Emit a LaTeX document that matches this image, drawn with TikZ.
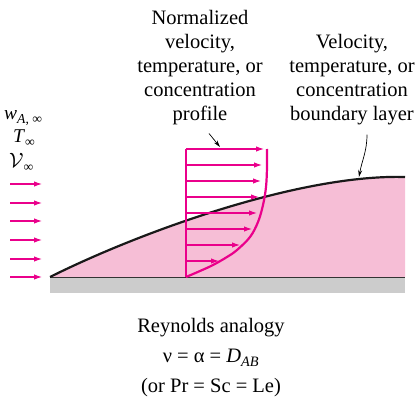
\documentclass[tikz,border=0pt]{standalone}
\usepackage{fontspec}
\setmainfont{Liberation Serif}
\usetikzlibrary{arrows.meta}
\definecolor{profmag}{RGB}{234,0,139}
\definecolor{layerpink}{RGB}{246,190,214}
\definecolor{plategray}{RGB}{204,204,204}
\tikzset{flow/.style={profmag,line width=1.1pt,-{Latex[length=8pt,width=5.5pt]}},
  lead/.style={black,line width=0.7pt,-{Stealth[length=7pt,width=4pt]}},
  lbl/.style={align=center,inner sep=0pt,font=\fontsize{20.5}{24}\selectfont},
  sym/.style={anchor=base west,inner sep=0pt,font=\fontsize{19.5}{22}\selectfont}}
\begin{document}
\begin{tikzpicture}[x=1pt,y=1pt]
  \useasboundingbox (0,0) rectangle (420,402);
  \fill[plategray] (50,109) rectangle (405,125);
  \fill[layerpink] (50,125) .. controls (140,170) and (300,228) .. (405,225) -- (405,125) -- cycle;
  \draw[black!80,line width=0.8pt] (50,125) -- (405,125);
  \draw[black!90,line width=2.2pt] (50,125) .. controls (140,170) and (300,228) .. (405,225);
  \draw[profmag,line width=1.5pt] (186,125) -- (186,253);
  \foreach \yy/\xx in {253/264,237/262,221/261,205/259,189/257,173/252,157/240,141/219}
    \draw[flow] (186,\yy) -- (\xx,\yy);
  \draw[profmag,line width=2.2pt] plot[smooth,tension=0.6] coordinates {(186,125) (200,131) (213,137) (227,145) (237,152) (250,165) (258,180) (263,197) (266,215) (267,235) (267,253)};
  \foreach \yy in {218,199,181,162,143,125}
    \draw[flow] (10,\yy) -- (42,\yy);
  \node[sym] (wA) at (4,282) {\textit{w}\textsubscript{\textit{A}, ∞}};
  \node[sym] (Tinf) at (13,259) {\textit{T}\textsubscript{∞}};
  \node[sym] (Vinf) at (9,234) {$\mathcal{V}$\textsubscript{∞}};
  \node[lbl] (norm) at (200,334) {Normalized\\velocity,\\temperature, or\\concentration\\profile};
  \node[lbl] (bl) at (352,322) {Velocity,\\temperature, or\\concentration\\boundary layer};
  \node[lbl] (reyn) at (211,44) {Reynolds analogy\\[6pt]ν = α = \textit{D}\textsubscript{\textit{AB}}\\[6pt](or Pr = Sc = Le)};
  \coordinate (proftop) at (220,255);
  \coordinate (laytip) at (359,225);
  \draw[lead] ([xshift=9pt,yshift=-8pt]norm.south) -- (proftop);
  \draw[lead] ([xshift=15pt,yshift=-9pt]bl.south) to[out=-90,in=80] (laytip);
\end{tikzpicture}
\end{document}
